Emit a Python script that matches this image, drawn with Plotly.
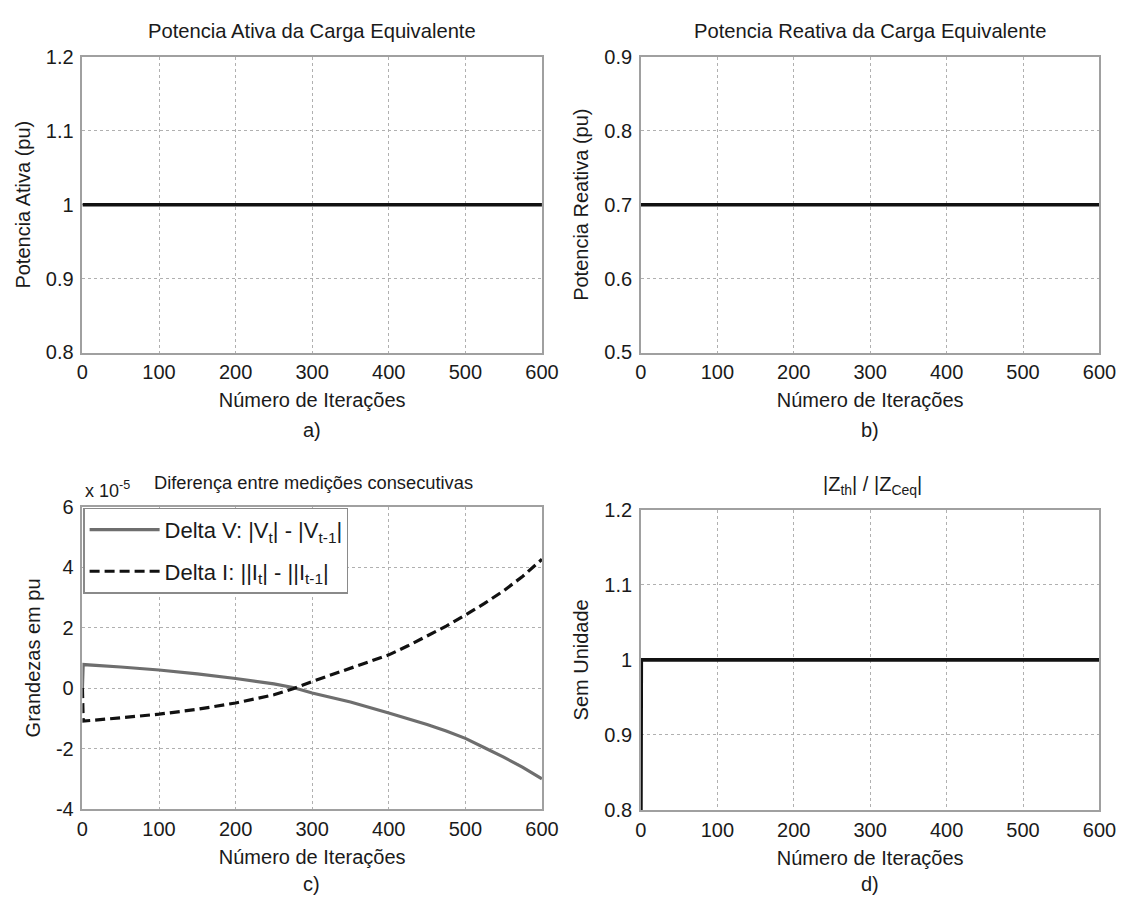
import plotly.graph_objects as go

# ---------------- data ----------------
iters_flat = [0, 600]
p_ativa = [1.0, 1.0]
q_reativa = [0.7, 0.7]

iters_c = [0, 1, 50, 100, 150, 200, 250, 275, 300, 350, 400, 425, 450, 475, 500, 525, 550, 575, 600]
delta_v_e5 = [0.0, 0.78, 0.70, 0.60, 0.47, 0.32, 0.14, 0.02, -0.16, -0.46, -0.82, -1.00, -1.20, -1.42, -1.66, -1.97, -2.28, -2.62, -3.00]
delta_i_e5 = [0.0, -1.09, -0.98, -0.86, -0.70, -0.49, -0.22, -0.02, 0.22, 0.65, 1.10, 1.40, 1.73, 2.05, 2.42, 2.80, 3.22, 3.70, 4.26]

iters_d = [0, 0.5, 600]
z_ratio = [0.8, 1.0, 1.0]

x_ticks = [0, 100, 200, 300, 400, 500, 600]
c_tickvals = [-4, -2, 0, 2, 4, 6]
c_ticktext = ["-4", "-2", "0", "2", "4", "6"]

# ---------------- layout ----------------
FONT = "Liberation Sans, Arial, sans-serif"
TXT = "#1a1a1a"
W, H = 1139, 906

def px(x):
    return x / W

def py(y):
    return 1 - y / H

dom_x_left = [px(78), px(547)]
dom_x_right = [px(648), px(1116)]
dom_y_top = [py(350), py(47)]
dom_y_c = [py(818), py(508)]
dom_y_d = [py(819), py(511)]

fig = go.Figure()

fig.add_trace(go.Scatter(x=iters_flat, y=p_ativa, mode="lines",
                         line=dict(color="#111111", width=3.6),
                         xaxis="x", yaxis="y", showlegend=False))
fig.add_trace(go.Scatter(x=iters_flat, y=q_reativa, mode="lines",
                         line=dict(color="#111111", width=3.6),
                         xaxis="x2", yaxis="y2", showlegend=False))
fig.add_trace(go.Scatter(x=iters_c, y=delta_v_e5, mode="lines",
                         line=dict(color="#6e6e6e", width=3.2),
                         name="Delta V: |V<sub>t</sub>| - |V<sub>t-1</sub>|",
                         legendgroup="v",
                         xaxis="x3", yaxis="y3"))
fig.add_trace(go.Scatter(x=iters_c, y=delta_i_e5, mode="lines",
                         line=dict(color="#111111", width=3.2, dash="10px,5px"),
                         name="Delta I: ||I<sub>t</sub>| - ||I<sub>t-1</sub>|",
                         legendgroup="i",
                         xaxis="x3", yaxis="y3"))
fig.add_trace(go.Scatter(x=iters_d, y=z_ratio, mode="lines",
                         line=dict(color="#111111", width=3.6),
                         xaxis="x4", yaxis="y4", showlegend=False))

GRID = dict(showgrid=True, gridcolor="#b0b0b0", griddash="dot", gridwidth=1,
            showline=True, linecolor="#a0a0a0", linewidth=1.5, mirror=True,
            ticks="", zeroline=False)

def xax(domain, anchor):
    return dict(domain=domain, anchor=anchor, range=[0, 600], tickvals=x_ticks,
                ticklabelstandoff=1,
                tickfont=dict(size=20, color=TXT, family=FONT),
                title=dict(text="Número de Iterações", standoff=11,
                           font=dict(size=20, color=TXT, family=FONT)),
                **GRID)

def yax(domain, anchor, rng, title, **kw):
    return dict(domain=domain, anchor=anchor, range=rng,
                ticklabelstandoff=3,
                tickfont=dict(size=20, color=TXT, family=FONT),
                title=dict(text=title, standoff=10,
                           font=dict(size=20, color=TXT, family=FONT)),
                **GRID, **kw)

fig.update_layout(
    width=W, height=H,
    margin=dict(l=0, r=0, t=0, b=0),
    paper_bgcolor="white", plot_bgcolor="white",
    font=dict(family=FONT, color=TXT),
    xaxis=xax(dom_x_left, "y"),
    yaxis=yax(dom_y_top, "x", [0.8, 1.2], "Potencia Ativa (pu)", dtick=0.1),
    xaxis2=xax(dom_x_right, "y2"),
    yaxis2=yax(dom_y_top, "x2", [0.5, 0.9], "Potencia Reativa (pu)", dtick=0.1),
    xaxis3=xax(dom_x_left, "y3"),
    yaxis3=yax(dom_y_c, "x3", [-4, 6], "Grandezas em pu",
               tickvals=c_tickvals, ticktext=c_ticktext),
    xaxis4=xax(dom_x_right, "y4"),
    yaxis4=yax(dom_y_d, "x4", [0.8, 1.2], "Sem Unidade", dtick=0.1),
    legend=dict(x=px(79), y=py(509), xanchor="left", yanchor="top",
                bgcolor="white", bordercolor="#8a8a8a", borderwidth=1.2,
                font=dict(size=22, color=TXT, family=FONT),
                tracegroupgap=10, itemwidth=70),
)

annots = [
    (px(312), py(20), "Potencia Ativa da Carga Equivalente", 20.2),
    (px(882), py(20), "Potencia Reativa da Carga Equivalente", 20.2),
    (px(314), py(483), "Diferença entre medições consecutivas", 18.3),
    (px(884), py(486), "|Z<sub>th</sub>| / |Z<sub>Ceq</sub>|", 20),
    (px(312), py(429), "a)", 20),
    (px(882), py(429), "b)", 20),
    (px(312), py(895), "c)", 20),
    (px(882), py(895), "d)", 20),
]
for x, y, t, s in annots:
    fig.add_annotation(x=x, y=y, xref="paper", yref="paper", text=t, showarrow=False,
                       xanchor="center", yanchor="middle",
                       font=dict(size=s, color=TXT, family=FONT))
fig.add_annotation(x=px(79), y=py(490), xref="paper", yref="paper",
                   text="x 10<sup>-5</sup>", showarrow=False,
                   xanchor="left", yanchor="middle",
                   font=dict(size=18, color=TXT, family=FONT))

fig.write_html("out.html")
